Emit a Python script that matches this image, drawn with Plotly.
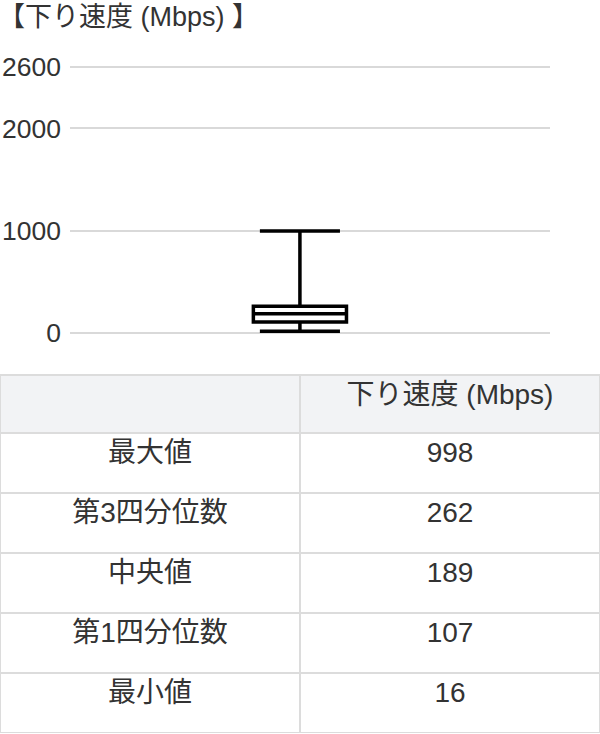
import plotly.graph_objects as go

# summary statistics for download speed
stat_labels = ["最大値", "第3四分位数", "中央値", "第1四分位数", "最小値"]
stat_values = [998, 262, 189, 107, 16]
series_name = "下り速度 (Mbps)"
y_ticks = [0, 1000, 2000, 2600]

FONT = "Liberation Sans, Arial, Noto Sans CJK JP, sans-serif"
W, H = 600, 734
TXT = "#333333"
CELL_SIZE = 28

fig = go.Figure()

# box built directly from the precomputed quartiles
fig.add_trace(go.Box(
    x=[0],
    upperfence=[stat_values[0]],
    q3=[stat_values[1]],
    median=[stat_values[2]],
    q1=[stat_values[3]],
    lowerfence=[stat_values[4]],
    width=0.194,
    whiskerwidth=0.86,
    fillcolor="white",
    line=dict(color="black", width=3.5),
    hoverinfo="skip",
    showlegend=False,
))

fig.add_trace(go.Table(
    domain=dict(x=[0, 1], y=[0, 1 - 375 / H]),
    columnwidth=[1, 1],
    header=dict(
        values=["", series_name],
        fill_color="#f2f3f5",
        line=dict(color="#dcdcdc", width=2),
        align="center",
        height=58,
        font=dict(family=FONT, size=CELL_SIZE, color=TXT),
    ),
    cells=dict(
        values=[stat_labels, [str(v) for v in stat_values]],
        fill_color="white",
        line=dict(color="#dcdcdc", width=2),
        align="center",
        height=60,
        font=dict(family=FONT, size=CELL_SIZE, color=TXT),
    ),
))

pad = 10  # a little slack so the 0 and 2600 gridlines are drawn
px_per_unit = (333 - 67) / 2600

fig.update_layout(
    width=W,
    height=H,
    margin=dict(l=0, r=0, t=0, b=0),
    paper_bgcolor="white",
    plot_bgcolor="white",
    font=dict(family=FONT, color=TXT),
    xaxis=dict(
        domain=[70 / W, 550 / W],
        range=[-0.479, 0.521],
        showticklabels=False,
        showgrid=False,
        zeroline=False,
        automargin=False,
        fixedrange=True,
    ),
    yaxis=dict(
        domain=[1 - (333 + pad * px_per_unit) / H, 1 - (67 - pad * px_per_unit) / H],
        range=[-pad, 2600 + pad],
        tickvals=y_ticks,
        ticktext=[str(t) for t in y_ticks],
        showgrid=True,
        gridcolor="#d9d9d9",
        gridwidth=2,
        zeroline=False,
        ticks="",
        ticklabelstandoff=8,
        automargin=False,
        fixedrange=True,
        tickfont=dict(family=FONT, size=26.5, color=TXT),
    ),
    annotations=[dict(
        text="【下り速度 (Mbps) 】",
        x=0, y=1, xref="paper", yref="paper",
        xanchor="left", yanchor="top",
        xshift=-4,
        showarrow=False,
        font=dict(family=FONT, size=27, color=TXT),
    )],
)

fig.write_html(
    "out.html",
    config={"displayModeBar": False},
    post_script="document.body.style.margin='0';",
)
